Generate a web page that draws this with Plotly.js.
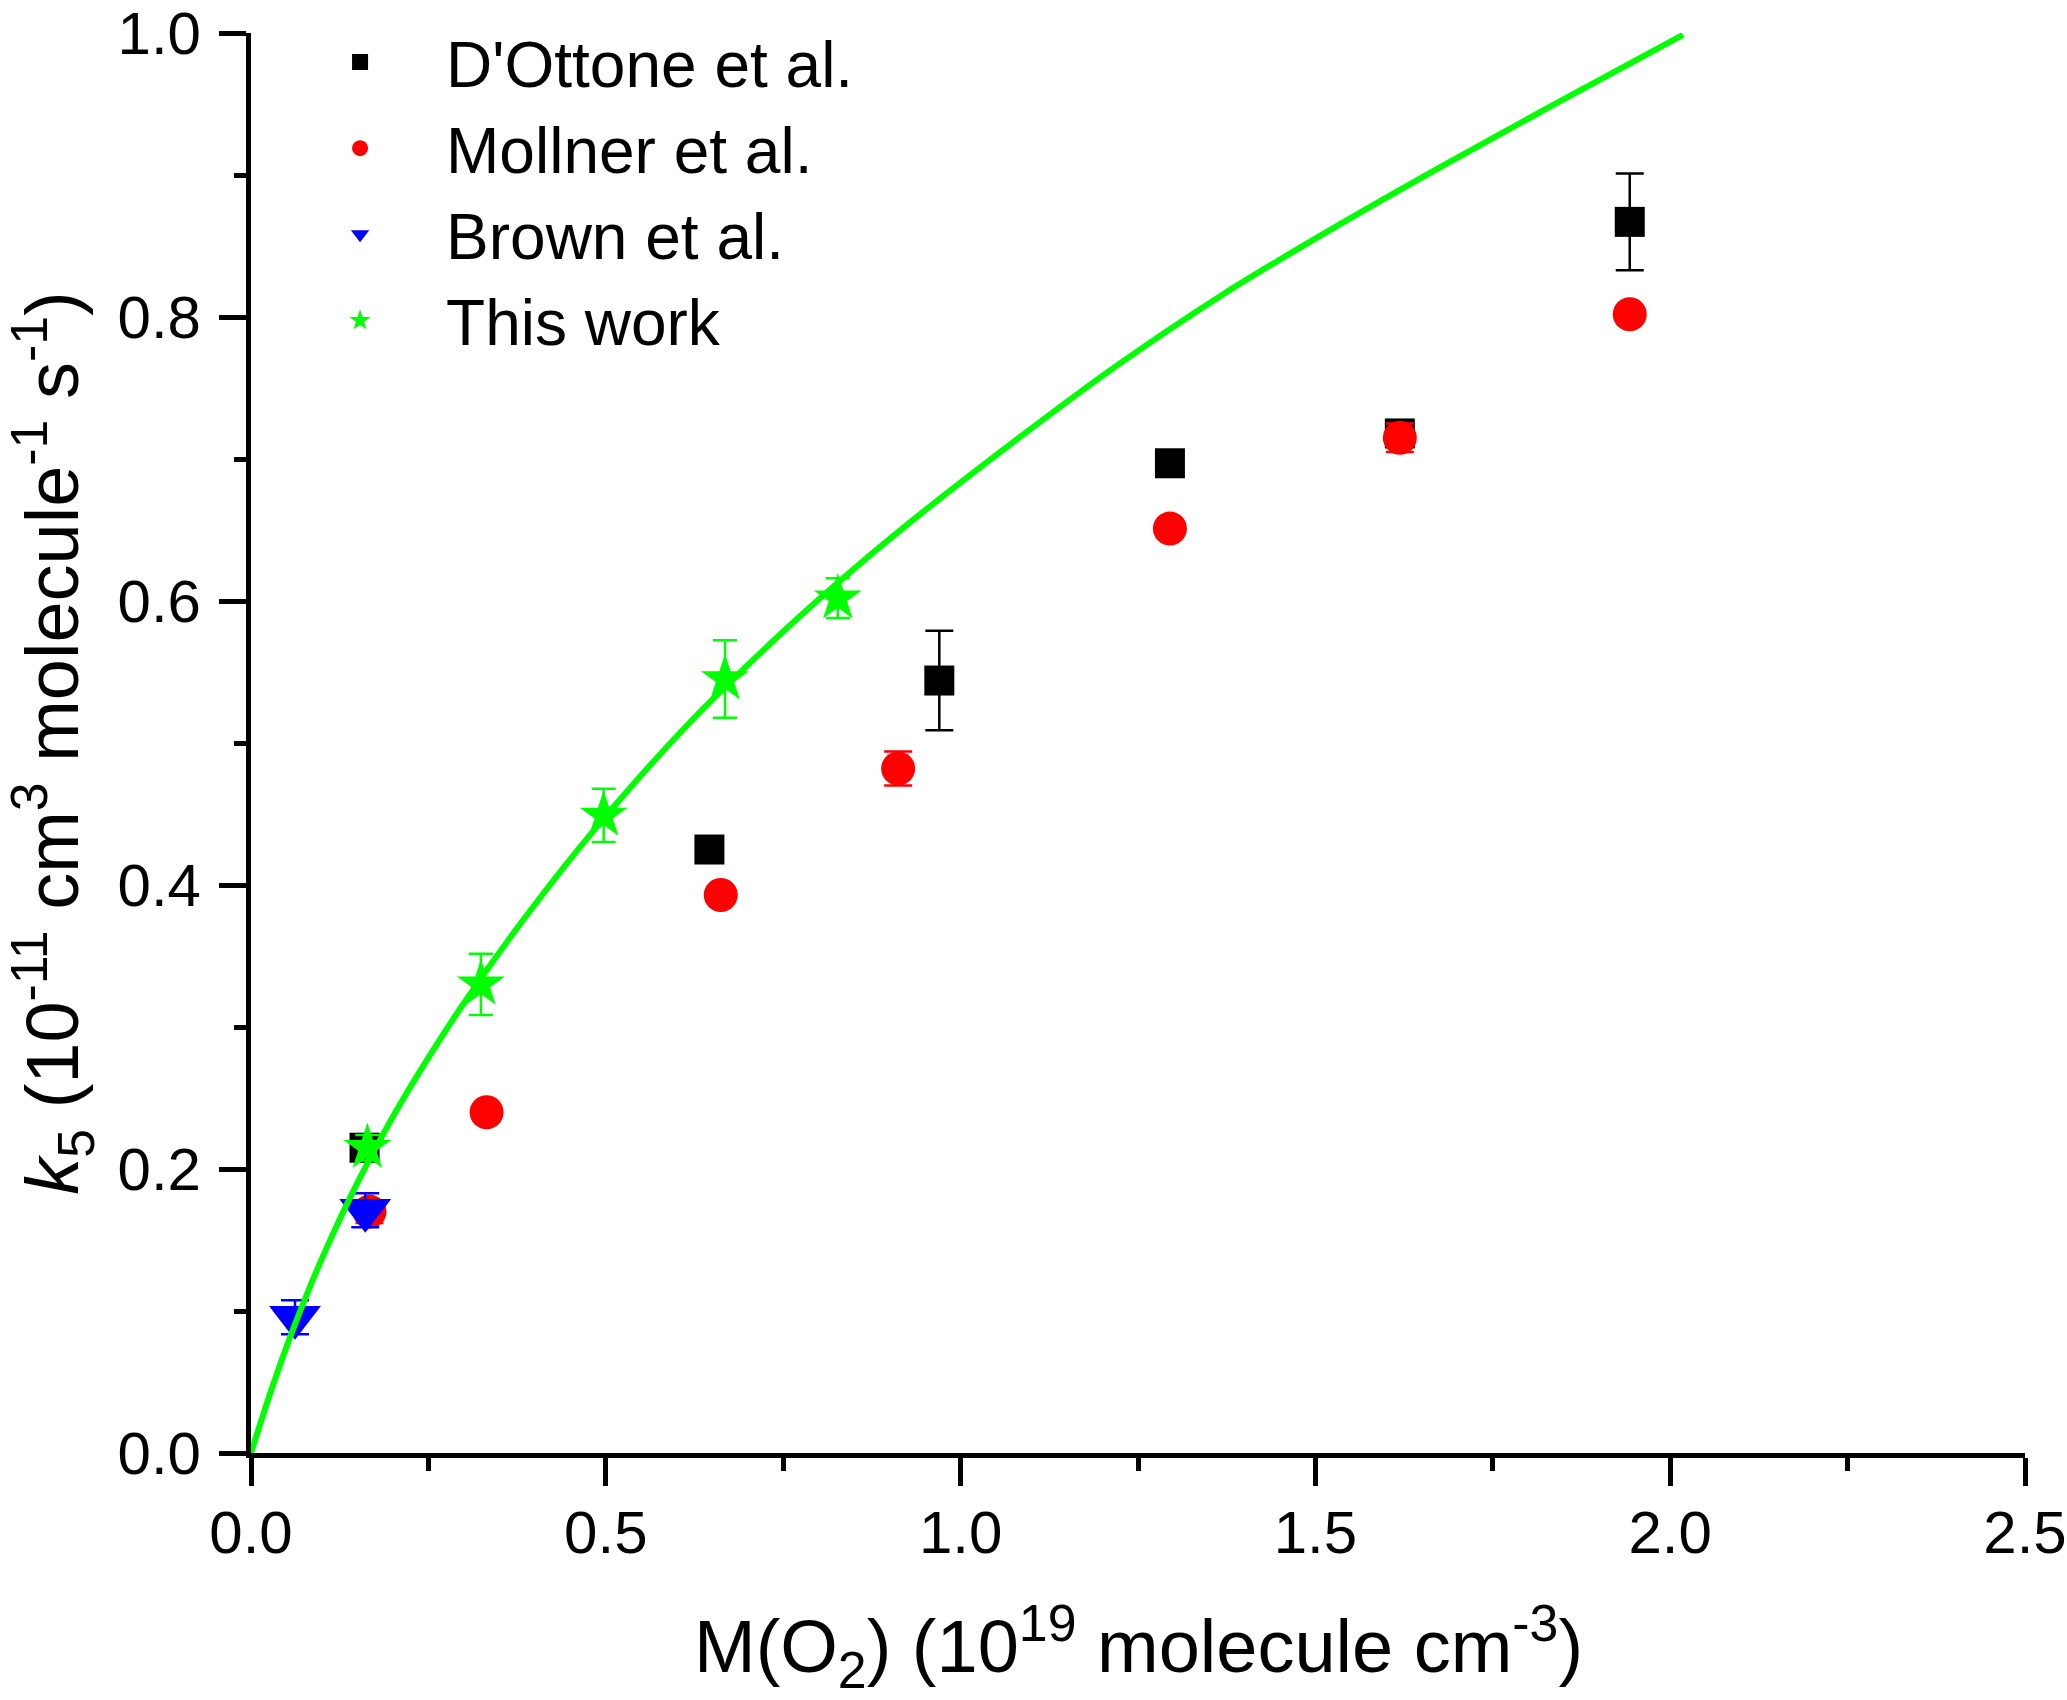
<!DOCTYPE html>
<html>
<head>
<meta charset="utf-8">
<script src="https://cdn.plot.ly/plotly-3.0.1.min.js"></script>
<style>
  html, body { margin: 0; padding: 0; background: #ffffff; }
  #grafico { width: 2067px; height: 1700px; }
</style>
</head>
<body>
<div id="grafico"></div>
<script>
"use strict";

// D'Ottone et al.
const xDOttone = [0.160, 0.646, 0.970, 1.295, 1.619, 1.943];
const yDOttone = [0.215, 0.425, 0.544, 0.697, 0.718, 0.867];
const errDOttone = [0.008, 0, 0.035, 0, 0.008, 0.034];

// Mollner et al.
const xMollner = [0.167, 0.332, 0.662, 0.912, 1.295, 1.619, 1.943];
const yMollner = [0.170, 0.240, 0.393, 0.482, 0.651, 0.715, 0.802];
const errMollner = [0.008, 0, 0, 0.012, 0, 0.010, 0];

// Brown et al.
const xBrown = [0.062, 0.161];
const yBrown = [0.0956, 0.171];
const errBrown = [0.012, 0.012];

// This work (puntos experimentales)
const xEsteTrabajo = [0.164, 0.324, 0.497, 0.668, 0.827];
const yEsteTrabajo = [0.215, 0.330, 0.449, 0.545, 0.602];
const errEsteTrabajo = [0.009, 0.0215, 0.0187, 0.0273, 0.014];

// Curva de ajuste
const xCurva = [0, 0.0285, 0.0567, 0.0848, 0.113, 0.1412, 0.1694, 0.1976, 0.2304, 0.2985,
    0.3865, 0.4934, 0.613, 0.7388, 0.8269, 0.9213, 1.0668, 1.2196, 1.3724, 1.5252,
    1.678, 1.8307, 2.018];
const yCurva = [0, 0.0442, 0.0837, 0.1191, 0.1515, 0.1814, 0.209, 0.2347, 0.2626, 0.3157,
    0.3773, 0.4446, 0.5116, 0.5732, 0.6128, 0.6524, 0.7091, 0.7656, 0.8168, 0.8626,
    0.9061, 0.9481, 0.9987];

// Titulos de los ejes
const tituloX = 'M(O<sub>2</sub>) (10<sup>19</sup> molecule cm<sup>-3</sup>)';
const tituloY = '<i>k</i><sub>5</sub> (10<sup>-11</sup> cm<sup>3</sup> molecule<sup>-1</sup> s<sup>-1</sup>)';

const fuente = "Liberation Sans, Arial, Helvetica, sans-serif";

function barras(arr, color, ancho) {
    return {
        type: 'data',
        array: arr,
        visible: true,
        color: color,
        thickness: 2.5,
        width: ancho
    };
}

const trazas = [
    {
        x: xDOttone, y: yDOttone, type: 'scatter', mode: 'markers',
        name: "D'Ottone et al.",
        marker: { symbol: 'square', color: '#000000', size: 30 },
        error_y: barras(errDOttone, '#000000', 14)
    },
    {
        x: xMollner, y: yMollner, type: 'scatter', mode: 'markers',
        name: 'Mollner et al.',
        marker: { symbol: 'circle', color: '#ff0000', size: 34 },
        error_y: barras(errMollner, '#ff0000', 14)
    },
    {
        x: xBrown, y: yBrown, type: 'scatter', mode: 'markers',
        name: 'Brown et al.',
        marker: { symbol: 'triangle-down', color: '#0000ff', size: 45 },
        error_y: barras(errBrown, '#0000ff', 14)
    },
    {
        x: xCurva, y: yCurva, type: 'scatter', mode: 'lines',
        showlegend: false, hoverinfo: 'skip',
        line: { color: '#00ff00', width: 6, shape: 'spline', smoothing: 0.8 }
    },
    {
        x: xEsteTrabajo, y: yEsteTrabajo, type: 'scatter', mode: 'markers',
        name: 'This work',
        marker: { symbol: 'star', color: '#00ff00', size: 36 },
        error_y: barras(errEsteTrabajo, '#00ff00', 12)
    }
];

const layout = {
    width: 2067,
    height: 1700,
    margin: { l: 251, r: 42, t: 33, b: 247 },
    paper_bgcolor: '#ffffff',
    plot_bgcolor: '#ffffff',
    font: { family: fuente, color: '#000000', size: 60 },
    showlegend: true,
    legend: {
        x: 0.013, y: 1.0135, xanchor: 'left', yanchor: 'top',
        bgcolor: 'rgba(0,0,0,0)',
        font: { family: fuente, size: 64, color: '#000000' },
        itemwidth: 162,
        tracegroupgap: 0
    },
    // el titulo del eje X va como anotacion para poder bajarlo como en el original
    annotations: [
        {
            text: tituloX,
            xref: 'paper', yref: 'paper',
            x: 0.5, y: -0.136,
            xanchor: 'center', yanchor: 'middle',
            showarrow: false,
            font: { family: fuente, size: 74, color: '#000000' }
        }
    ],
    xaxis: {
        range: [0, 2.5],
        dtick: 0.5,
        tick0: 0,
        tickformat: '.1f',
        showgrid: false,
        zeroline: false,
        showline: true,
        linecolor: '#000000',
        linewidth: 5,
        ticks: 'outside',
        ticklen: 28,
        tickwidth: 5,
        tickcolor: '#000000',
        ticklabelstandoff: -5,
        ticklabeloverflow: 'allow',
        tickfont: { family: fuente, size: 60 },
        minor: { dtick: 0.25, ticks: 'outside', ticklen: 13, tickwidth: 5, tickcolor: '#000000', showgrid: false },
        automargin: false
    },
    yaxis: {
        range: [0, 1.00001],
        dtick: 0.2,
        tick0: 0,
        tickformat: '.1f',
        showgrid: false,
        zeroline: false,
        showline: true,
        linecolor: '#000000',
        linewidth: 5,
        ticks: 'outside',
        ticklen: 27,
        tickwidth: 5,
        tickcolor: '#000000',
        ticklabelstandoff: 6,
        ticklabeloverflow: 'allow',
        tickfont: { family: fuente, size: 60 },
        minor: { dtick: 0.1, ticks: 'outside', ticklen: 12, tickwidth: 5, tickcolor: '#000000', showgrid: false },
        title: {
            text: tituloY,
            font: { family: fuente, size: 74 },
            standoff: 24
        },
        automargin: false
    }
};

const config = {
    responsive: false,
    displayModeBar: false,
    staticPlot: true
};

Plotly.newPlot('grafico', trazas, layout, config);
</script>
</body>
</html>
